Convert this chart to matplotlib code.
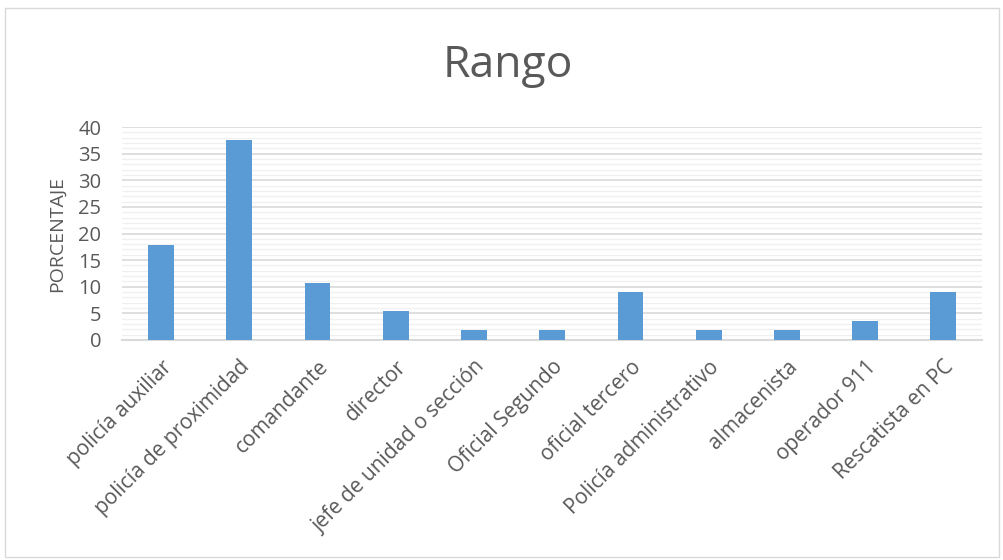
import numpy as np
import matplotlib.pyplot as plt
from matplotlib.patches import Rectangle

# datos
categorias = ['policía auxiliar', 'policía de proximidad', 'comandante', 'director',
              'jefe de unidad o sección', 'Oficial Segundo', 'oficial tercero',
              'Policía administrativo', 'almacenista', 'operador 911', 'Rescatista en PC']
porcentaje = [17.86, 37.5, 10.71, 5.36, 1.79, 1.79, 8.93, 1.79, 1.79, 3.57, 8.93]
yticks = [0, 5, 10, 15, 20, 25, 30, 35, 40]

plt.rcParams['font.family'] = ['Open Sans', 'DejaVu Sans']
gris = '#595959'

fig = plt.figure(figsize=(10.04, 5.6), dpi=100)
ax = fig.add_axes([0.1215, 0.393, 0.857, 0.380])

x = np.arange(len(categorias))
ax.bar(x, porcentaje, width=0.33, color='#5B9BD5', zorder=3)

ax.set_xlim(-0.5, len(categorias) - 0.5)
ax.set_ylim(0, 40)
ax.set_yticks(yticks)
ax.set_yticks(np.arange(0, 41, 1), minor=True)
ax.grid(axis='y', which='major', color='#D9D9D9', linewidth=1.2, zorder=0)
ax.grid(axis='y', which='minor', color='#F0F0F0', linewidth=1.0, zorder=0)
ax.tick_params(axis='y', which='both', length=0, labelsize=14.5, labelcolor=gris, pad=15)
ax.tick_params(axis='x', length=0, labelsize=15, labelcolor=gris, pad=12)

ax.set_xticks(x)
ax.set_xticklabels(categorias, rotation=45, ha='right', rotation_mode='anchor')

for s in ['top', 'right', 'left']:
    ax.spines[s].set_visible(False)
ax.spines['bottom'].set_color('#D9D9D9')
ax.spines['bottom'].set_linewidth(1.5)

ax.set_ylabel('PORCENTAJE', fontsize=14, color=gris, labelpad=9)
fig.text(0.506, 0.883, 'Rango', fontsize=32, color=gris, ha='center', va='center')

fig.patches.append(Rectangle((0.005, 0.005), 0.99, 0.98, transform=fig.transFigure,
                             fill=False, edgecolor='#D9D9D9', linewidth=1))

fig.savefig('out.png', dpi=100)
